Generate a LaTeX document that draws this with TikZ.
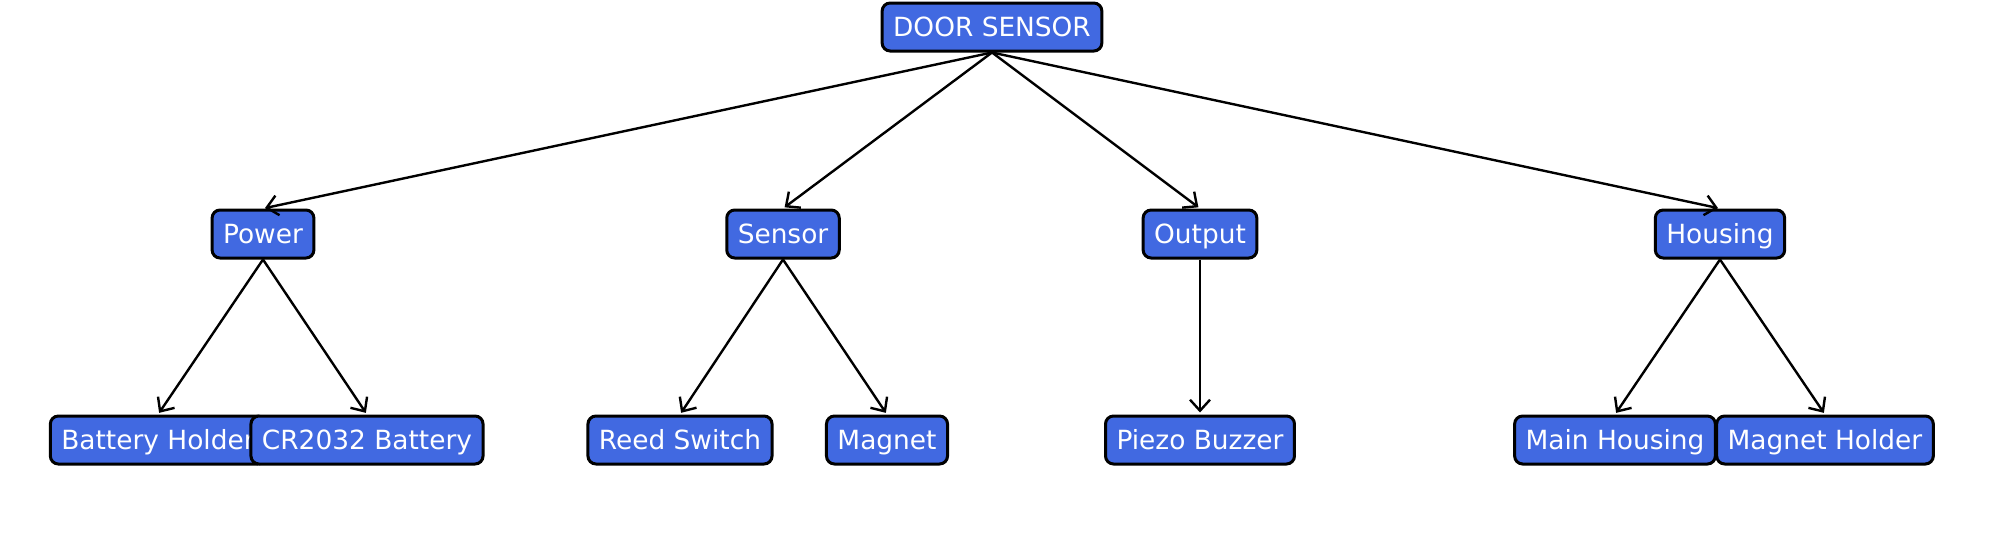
\documentclass[tikz,border=0pt]{standalone}
\usepackage{fontspec}
\setmainfont{DejaVu Sans}
\usetikzlibrary{arrows.meta}
\definecolor{boxblue}{HTML}{4169E1}
\begin{document}
\begin{tikzpicture}[x=0.5pt,y=-0.5pt,
  box/.style={draw=black, line width=1.5pt, fill=boxblue, text=white, rounded corners=4pt,
    inner xsep=5.5pt, inner ysep=0pt, minimum height=24pt, text height=11.6pt, text depth=2pt,
    font=\fontsize{13.2pt}{15pt}\selectfont},
  conn/.style={-{Straight Barb[length=5.5pt,width=10pt,line width=1.2pt]}, line width=1.2pt, black, shorten >=1pt}]
\useasboundingbox (0,0) rectangle (1999,547);
\node[box] (root) at (992,27) {DOOR SENSOR};
\node[box] (power) at (263,234) {Power};
\node[box] (sensor) at (783,234) {Sensor};
\node[box] (output) at (1200,234) {Output};
\node[box] (housing) at (1720,234) {Housing};
\node[box] (bh) at (158,440) {Battery Holder};
\node[box] (cr) at (367,440) {CR2032 Battery};
\node[box] (reed) at (680,440) {Reed Switch};
\node[box] (magnet) at (887,440) {Magnet};
\node[box] (piezo) at (1200,440) {Piezo Buzzer};
\node[box] (mh) at (1615,440) {Main Housing};
\node[box] (mgh) at (1825,440) {Magnet Holder};
\foreach \c in {power,sensor,output,housing}
  \draw[conn] (root.south) -- (\c.north);
\draw[conn] (power.south) -- (bh.north);
\draw[conn] (power.south) -- (cr.north);
\draw[conn] (sensor.south) -- (reed.north);
\draw[conn] (sensor.south) -- (magnet.north);
\draw[conn] (output.south) -- (piezo.north);
\draw[conn] (housing.south) -- (mh.north);
\draw[conn] (housing.south) -- (mgh.north);
\end{tikzpicture}
\end{document}
